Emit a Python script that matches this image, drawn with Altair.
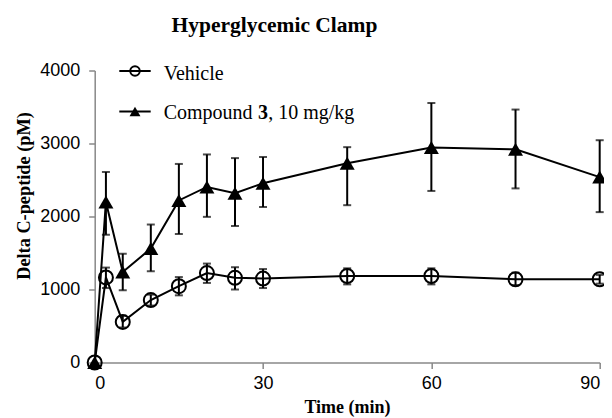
import altair as alt
import pandas as pd

# ---- data ----
time = [0, 2, 5, 10, 15, 20, 25, 30, 45, 60, 75, 90]
vehicle_mean = [0, 1165, 556, 855, 1045, 1225, 1160, 1150, 1185, 1185, 1140, 1140]
vehicle_lo = [0, 1020, 480, 780, 920, 1090, 1000, 1020, 1070, 1070, 1060, 1080]
vehicle_hi = [0, 1300, 640, 930, 1170, 1355, 1305, 1280, 1290, 1290, 1230, 1200]
cmpd_mean = [0, 2200, 1240, 1560, 2220, 2405, 2320, 2455, 2730, 2945, 2920, 2540]
cmpd_lo = [0, 1750, 990, 1250, 1760, 1995, 1870, 2130, 2155, 2350, 2385, 2060]
cmpd_hi = [0, 2610, 1490, 1890, 2720, 2850, 2800, 2815, 2950, 3555, 3465, 3045]
x_ticks = [0, 30, 60, 90]
y_ticks = [0, 1000, 2000, 3000, 4000]

SERIF = "Liberation Serif"
SANS = "Liberation Sans"

veh = pd.DataFrame({"time": time, "mean": vehicle_mean, "lo": vehicle_lo, "hi": vehicle_hi})
cmp_ = pd.DataFrame({"time": time, "mean": cmpd_mean, "lo": cmpd_lo, "hi": cmpd_hi})
one = pd.DataFrame({"a": [0]})

xs = alt.Scale(domain=[0, 90], nice=False, zero=False)
ys = alt.Scale(domain=[0, 4000], nice=False)
xax = alt.Axis(values=x_ticks, title=None, labelPadding=6, format="d")
yax = alt.Axis(values=y_ticks, title=None, labelPadding=9, format="d")


def series(df, shape, filled):
    base = alt.Chart(df)
    line = base.mark_line(color="black", strokeWidth=2).encode(
        x=alt.X("time:Q", scale=xs, axis=xax),
        y=alt.Y("mean:Q", scale=ys, axis=yax),
    )
    eb = df[df["time"] > 0]
    rule = alt.Chart(eb).mark_rule(color="black", strokeWidth=2).encode(
        x="time:Q", y="lo:Q", y2="hi:Q"
    )
    cap_lo = alt.Chart(eb).mark_tick(color="black", orient="horizontal", size=8, thickness=2).encode(
        x="time:Q", y="lo:Q"
    )
    cap_hi = alt.Chart(eb).mark_tick(color="black", orient="horizontal", size=8, thickness=2).encode(
        x="time:Q", y="hi:Q"
    )
    if filled:
        pts = base.mark_point(shape=shape, size=225, filled=True, color="black", opacity=1).encode(
            x="time:Q", y="mean:Q"
        )
    else:
        pts = base.mark_point(shape=shape, size=196, filled=False, color="black",
                              strokeWidth=2, opacity=1).encode(x="time:Q", y="mean:Q")
    return [line, rule, cap_lo, cap_hi, pts]


layers = series(veh, "circle", False) + series(cmp_, "triangle-up", True)


def legend_row(y, shape, filled, size):
    r = alt.Chart(one).mark_rule(color="black", strokeWidth=2).encode(
        x=alt.value(24.6), x2=alt.value(56), y=alt.value(y))
    if filled:
        p = alt.Chart(one).mark_point(shape=shape, size=size, filled=True, color="black", opacity=1).encode(
            x=alt.value(40.3), y=alt.value(y))
    else:
        p = alt.Chart(one).mark_point(shape=shape, size=size, filled=False, color="black",
                                      strokeWidth=2, opacity=1).encode(x=alt.value(40.3), y=alt.value(y))
    return [r, p]


def txt(x, y, s, size=20, weight="normal", font=SERIF, align="left", baseline="alphabetic", angle=0):
    kw = dict(font=font, fontSize=size, fontWeight=weight, align=align, baseline=baseline, color="black")
    if angle:
        kw["angle"] = angle
    return alt.Chart(one).mark_text(text=s, **kw).encode(x=alt.value(x), y=alt.value(y))


layers += legend_row(0.5, "circle", False, 90)
layers += legend_row(41, "triangle-up", True, 120)
layers += [
    txt(69.0, 9.2, "Vehicle"),
    txt(69.0, 48.5, "Compound"),
    txt(163.4, 48.5, "3", weight="bold"),
    txt(173.6, 48.5, ", 10 mg/kg"),
    txt(179.8, -38.5, "Hyperglycemic Clamp", size=21.5, weight="bold", align="center"),
    txt(252.8, 342.5, "Time (min)", size=18, weight="bold", align="center"),
    txt(-69.5, 125.5, "Delta C-peptide (pM)", size=18.3, weight="bold", align="center",
        baseline="middle", angle=270),
]

chart = alt.layer(*layers).properties(
    width=505,
    height=292,
    autosize=alt.AutoSizeParams(type="none"),
    padding={"left": 86.7, "top": 62.5, "right": 4, "bottom": 55},
    background="white",
).configure_view(stroke=None).configure_axis(
    grid=False,
    domainColor="#888888",
    domainWidth=1.5,
    tickColor="#888888",
    tickWidth=1.5,
    tickSize=6,
    labelFont=SANS,
    labelFontSize=18,
    labelColor="black",
)

chart.save("out.html", embed_options={"renderer": "svg", "actions": False})
